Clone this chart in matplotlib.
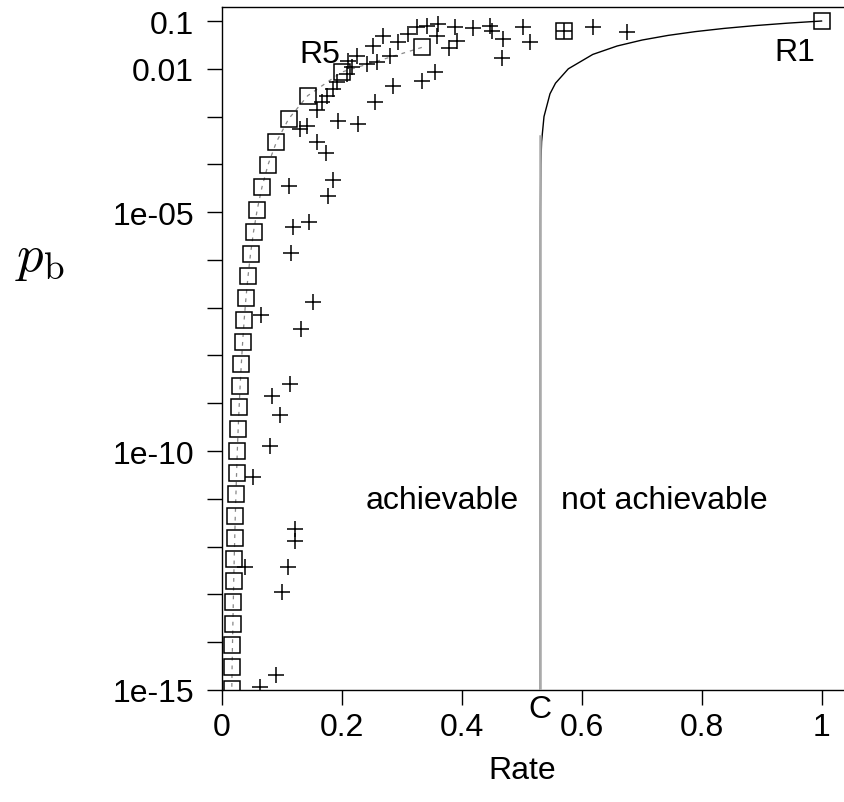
import numpy as np
import matplotlib.pyplot as plt

plt.rcParams['font.family'] = ['Liberation Sans', 'DejaVu Sans']
plt.rcParams['mathtext.fontset'] = 'cm'

# channel capacity of the BSC with f = 0.1
capacity = 0.531

# repetition codes R1, R3, ..., R61
rep_rate = [1.0, 0.3333, 0.2, 0.1429, 0.1111, 0.0909, 0.0769, 0.0667, 0.0588,
            0.0526, 0.0476, 0.0435, 0.04, 0.037, 0.0345, 0.0323, 0.0303, 0.0286,
            0.027, 0.0256, 0.0244, 0.0233, 0.0222, 0.0213, 0.0204, 0.0196,
            0.0189, 0.0182, 0.0175, 0.0169, 0.0164]
rep_pb = [0.1, 0.028, 8.56e-3, 2.73e-3, 8.91e-4, 2.96e-4, 9.89e-5, 3.33e-5,
          1.13e-5, 3.88e-6, 1.33e-6, 4.60e-7, 1.59e-7, 5.52e-8, 1.92e-8,
          6.70e-9, 2.34e-9, 8.20e-10, 2.88e-10, 1.01e-10, 3.55e-11, 1.25e-11,
          4.40e-12, 1.55e-12, 5.46e-13, 1.93e-13, 6.81e-14, 2.41e-14,
          8.53e-15, 3.02e-15, 1.07e-15]

# BCH codes
bch_rate = [0.063, 0.090, 0.100, 0.110, 0.038, 0.122, 0.122, 0.052, 0.080,
            0.097, 0.083, 0.113, 0.132, 0.065, 0.152, 0.115, 0.118, 0.145,
            0.177, 0.185, 0.112, 0.173, 0.158, 0.130, 0.142, 0.193, 0.227,
            0.255, 0.285, 0.334, 0.355, 0.158, 0.167, 0.175, 0.185, 0.192,
            0.209, 0.217, 0.210, 0.225, 0.242, 0.259, 0.252, 0.269, 0.280,
            0.294, 0.310, 0.325, 0.342, 0.359, 0.360, 0.379, 0.392, 0.389,
            0.419, 0.447, 0.450, 0.469, 0.467, 0.502, 0.514, 0.619, 0.676]
bch_pb = [1.15e-15, 2.1e-15, 1.1e-13, 3.7e-13, 3.7e-13, 1.3e-12, 2.3e-12,
          2.8e-11, 1.3e-10, 5.8e-10, 1.4e-9, 2.5e-9, 3.6e-8, 6.9e-8, 1.3e-7,
          1.4e-6, 4.8e-6, 6.2e-6, 2.2e-5, 4.7e-5, 3.5e-5, 1.7e-4, 3.0e-4,
          5.5e-4, 6.3e-4, 7.9e-4, 6.9e-4, 2.0e-3, 4.4e-3, 5.5e-3, 8.5e-3,
          1.4e-3, 2.0e-3, 2.7e-3, 3.7e-3, 5.2e-3, 7.8e-3, 0.011, 0.0145,
          0.0186, 0.0126, 0.0138, 0.030, 0.049, 0.0186, 0.036, 0.054, 0.074,
          0.079, 0.049, 0.087, 0.027, 0.038, 0.074, 0.071, 0.079, 0.062,
          0.042, 0.0166, 0.074, 0.036, 0.074, 0.059]

# Hamming (7,4) code
ham_rate = [0.571]
ham_pb = [0.063]

# Shannon limit R = C / (1 - H2(pb))
sh_pb = [1e-15, 1e-6, 1e-5, 1e-4, 3e-4, 1e-3, 3e-3, 5e-3, 0.01, 0.02, 0.03,
         0.04, 0.05, 0.06, 0.07, 0.08, 0.09, 0.1]
sh_rate = [0.531, 0.53101, 0.5311, 0.5318, 0.5331, 0.5371, 0.5471, 0.5563,
           0.5777, 0.6185, 0.6591, 0.7008, 0.7441, 0.7895, 0.8374, 0.8882,
           0.9423, 1.0]

fig = plt.figure(figsize=(8.44, 8.03), dpi=100)
ax = fig.add_axes([0.263, 0.1395, 0.7459, 0.851])

ax.plot(sh_rate, sh_pb, color='black', lw=1.0, zorder=2)
ax.plot([capacity, capacity], [1e-15, 4e-4], color='#aaaaaa', lw=1.8, zorder=3)

ax.plot(rep_rate[1:], rep_pb[1:], ls=(0, (3, 4)), color='#888888', lw=0.9, zorder=1)
ax.plot(rep_rate, rep_pb, ls='none', marker='s', ms=11, mfc='none',
        mec='black', mew=1.1, zorder=4)
ax.plot(bch_rate, bch_pb, ls='none', marker='+', ms=12, mec='black',
        mew=1.1, zorder=4)
ax.plot(ham_rate, ham_pb, ls='none', marker='s', ms=11, mfc='none',
        mec='black', mew=1.1, zorder=4)
ax.plot(ham_rate, ham_pb, ls='none', marker='+', ms=12, mec='black',
        mew=1.1, zorder=4)

ax.set_yscale('log')
ax.set_xlim(0, 1.05)
ax.set_ylim(1e-15, 0.2)
ax.set_xticks([0, 0.2, 0.4, 0.6, 0.8, 1])
ax.set_xticklabels(['0', '0.2', '0.4', '0.6', '0.8', '1'])
yt = [10.0 ** -k for k in range(1, 16)]
ylab = ['' for k in range(1, 16)]
ylab[0] = '0.1'
ylab[1] = '0.01'
ylab[4] = '1e-05'
ylab[9] = '1e-10'
ylab[14] = '1e-15'
ax.set_yticks(yt)
ax.set_yticklabels(ylab)
ax.minorticks_off()
fs = 23
ax.tick_params(direction='out', length=11, width=1.0, labelsize=fs)
ax.tick_params(axis='y', pad=9)
ax.tick_params(axis='x', pad=5)
for s in ax.spines.values():
    s.set_linewidth(1.0)

ax.text(0.163, 0.02, 'R5', fontsize=fs, ha='center', va='center')
ax.text(0.956, 0.023, 'R1', fontsize=fs, ha='center', va='center')
ax.text(0.367, 9.5e-12, 'achievable', fontsize=fs, ha='center', va='center')
ax.text(0.737, 9.5e-12, 'not achievable', fontsize=fs, ha='center', va='center')
ax.text(capacity, 8.2e-16, 'C', fontsize=fs, ha='center', va='top')

ax.set_xlabel('Rate', fontsize=fs)
ax.xaxis.set_label_coords(0.5 / 1.05, -0.095)
fig.text(0.047, 0.679, r'$p_{\rm b}$', fontsize=38, ha='center', va='center')

fig.savefig('out.png', dpi=100)
